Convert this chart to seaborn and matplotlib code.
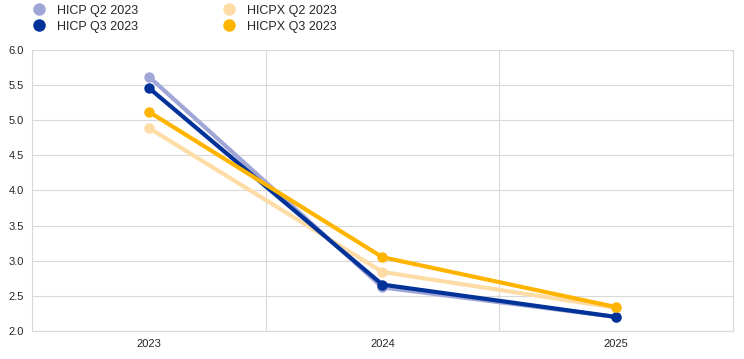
import matplotlib
matplotlib.use("Agg")
from matplotlib import pyplot as plt
from matplotlib.lines import Line2D
from matplotlib.ticker import FixedLocator
import pandas as pd
import seaborn as sns

# Data
years = ["2023", "2024", "2025"]
hicp_q2 = [5.62, 2.62, 2.2]
hicp_q3 = [5.46, 2.66, 2.2]
hicpx_q2 = [4.89, 2.84, 2.33]
hicpx_q3 = [5.12, 3.05, 2.34]

series_names = ["HICP Q2 2023", "HICPX Q2 2023", "HICP Q3 2023", "HICPX Q3 2023"]
series_values = [hicp_q2, hicpx_q2, hicp_q3, hicpx_q3]
colors = {
    "HICP Q2 2023": "#a0a6d6",
    "HICP Q3 2023": "#003299",
    "HICPX Q2 2023": "#fddca6",
    "HICPX Q3 2023": "#ffb400",
}

rows = []
for name, vals in zip(series_names, series_values):
    for y, v in zip(years, vals):
        rows.append({"year": y, "value": v, "series": name})
df = pd.DataFrame(rows)

sns.set_style("white")
plt.rcParams["font.family"] = ["Liberation Sans", "DejaVu Sans"]

fig = plt.figure(figsize=(7.44, 3.59), dpi=100)
ax = fig.add_axes([0.043, 0.078, 0.942, 0.783])

for name in series_names:
    sns.lineplot(data=df[df["series"] == name], x="year", y="value",
                 color=colors[name], linewidth=3, marker="o", markersize=7.5,
                 markeredgewidth=0, ax=ax, legend=False)

ax.set_xlim(-0.5, 2.5)
ax.set_ylim(2.0, 6.0)
ax.set_yticks([2.0, 2.5, 3.0, 3.5, 4.0, 4.5, 5.0, 5.5, 6.0])
ax.set_yticklabels([f"{t:.1f}" for t in ax.get_yticks()])
ax.xaxis.set_minor_locator(FixedLocator([0.5, 1.5]))
ax.grid(axis="y", color="#d9d9d9", linewidth=0.8)
ax.grid(axis="x", which="minor", color="#d9d9d9", linewidth=0.8)
ax.set_axisbelow(True)
ax.set_xlabel("")
ax.set_ylabel("")
ax.tick_params(axis="both", length=0, labelsize=8, pad=6)
ax.tick_params(axis="x", which="minor", length=0)
ax.spines["top"].set_visible(False)
for side in ["left", "bottom", "right"]:
    ax.spines[side].set_color("#d9d9d9")
    ax.spines[side].set_linewidth(0.8)

legend_order = ["HICP Q2 2023", "HICP Q3 2023", "HICPX Q2 2023", "HICPX Q3 2023"]
handles = [Line2D([], [], linestyle="none", marker="o", markersize=9,
                  markeredgewidth=0, color=colors[n]) for n in legend_order]
fig.legend(handles, legend_order, ncol=2, loc="upper left",
           bbox_to_anchor=(0.021, 1.018), frameon=False, fontsize=9,
           handletextpad=0.4, columnspacing=6.3, labelspacing=0.3)

fig.savefig("out.png", dpi=100)
